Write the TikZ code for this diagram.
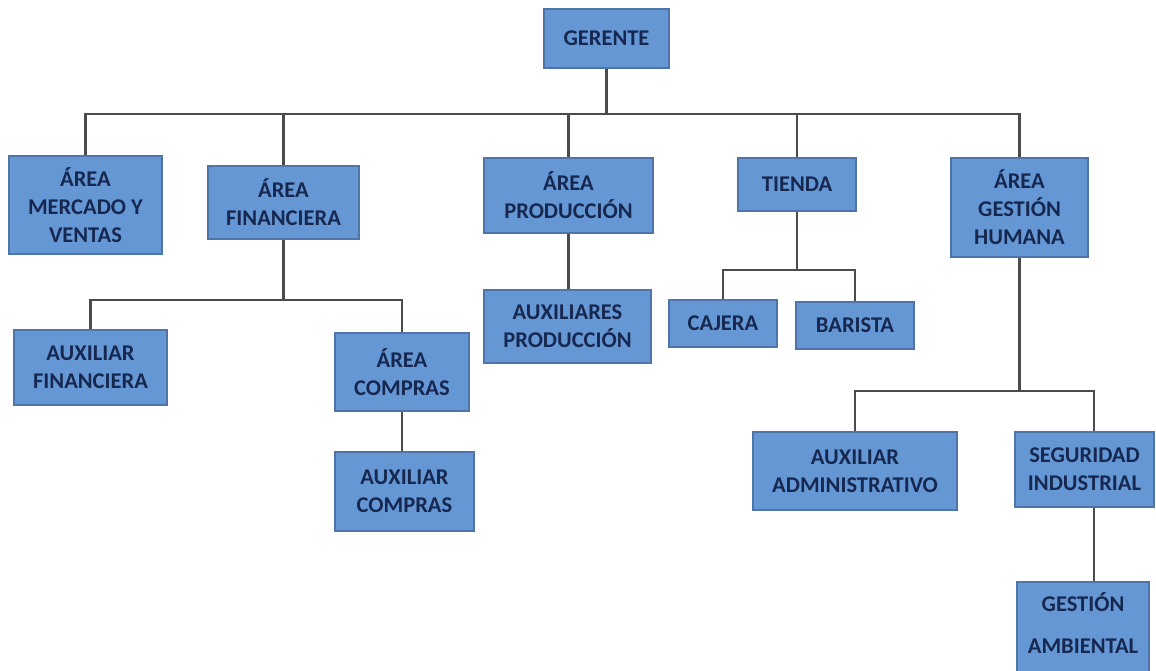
\documentclass[tikz,border=0pt]{standalone}
\usepackage{fontspec}
\setmainfont{Carlito}
\definecolor{boxfill}{RGB}{102,151,213}
\definecolor{boxline}{RGB}{78,116,170}
\definecolor{boxtext}{RGB}{22,40,80}
\definecolor{wire}{RGB}{75,75,75}
\tikzset{
  unit/.style={draw=boxline, line width=1.2pt, fill=boxfill, text=boxtext,
    font=\fontsize{22.5}{28}\selectfont\bfseries, align=center,
    inner sep=0pt, minimum width=#1},
  label text/.style={text=boxtext, font=\fontsize{22.5}{28}\selectfont\bfseries,
    align=center, inner sep=0pt},
  conn/.style={draw=wire, line width=2.3pt}
}
\begin{document}
\begin{tikzpicture}[x=1pt, y=-1pt]
  \clip (0,0) rectangle (1156,671);
  \useasboundingbox (0,0) rectangle (1156,671);
  \fill[white] (0,0) rectangle (1156,671);

  % junction points
  \coordinate (b0) at (606.5,114);
  \coordinate (b1) at (283.5,300);
  \coordinate (b2) at (797,270);
  \coordinate (b3) at (1019.5,391);
  \coordinate (s1) at (1094,391);

  % top level
  \node[unit=125pt, minimum height=59pt] (ger) at (606.5,38.5) {GERENTE};

  % areas
  \node[unit=153pt, minimum height=98pt] (mer) at (85.5,205) {ÁREA\\MERCADO Y\\VENTAS};
  \node[unit=151pt, minimum height=73pt] (fin) at (283.5,202.5) {ÁREA\\FINANCIERA};
  \node[unit=169pt, minimum height=75pt] (pro) at (568.5,195.5) {ÁREA\\PRODUCCIÓN};
  \node[unit=118pt, minimum height=53pt] (tie) at (797,184.5) {TIENDA};
  \node[unit=137pt, minimum height=99pt] (gh) at (1019.5,207.5) {ÁREA\\GESTIÓN\\HUMANA};

  % second level
  \node[unit=153pt, minimum height=75pt] (auxfin) at (90.5,367.5) {AUXILIAR\\FINANCIERA};
  \node[unit=134pt, minimum height=78pt] (com) at (402,372) {ÁREA\\COMPRAS};
  \node[unit=139pt, minimum height=79pt] (auxcom) at (404.5,491.5) {AUXILIAR\\COMPRAS};
  \node[unit=167pt, minimum height=73pt] (auxpro) at (567.5,326.5) {AUXILIARES\\PRODUCCIÓN};
  \node[unit=108pt, minimum height=47pt] (caj) at (723,323.5) {CAJERA};
  \node[unit=118pt, minimum height=47pt] (bar) at (855,325.5) {BARISTA};
  \node[unit=204pt, minimum height=78pt] (adm) at (855,471) {AUXILIAR\\ADMINISTRATIVO};
  \node[unit=139pt, minimum height=75pt] (seg) at (1084.5,469.5) {SEGURIDAD\\INDUSTRIAL};
  \node[unit=132pt, minimum height=110pt] (amb) at (1083,637) {};
  \node[label text] (ambt) at (1083,623) {GESTIÓN\\[14pt]AMBIENTAL};

  % connectors
  \draw[conn] (ger.south) -- (b0);
  \draw[conn] (mer.north) |- (b0) -| (gh.north);
  \draw[conn] (fin.north) -- (fin.north |- b0);
  \draw[conn] (pro.north) -- (pro.north |- b0);
  \draw[conn] (tie.north) -- (tie.north |- b0);

  \draw[conn] (fin.south) -- (b1);
  \draw[conn] (auxfin.north) |- (b1) -| (com.north);
  \draw[conn] (com.south) -- (com.south |- auxcom.north);

  \draw[conn] (pro.south) -- (pro.south |- auxpro.north);

  \draw[conn] (tie.south) -- (b2);
  \draw[conn] (caj.north) |- (b2) -| (bar.north);

  \draw[conn] (gh.south) -- (b3);
  \draw[conn] (adm.north) |- (b3) -- (s1) -- (s1 |- seg.north);
  \draw[conn] (s1 |- seg.south) -- (s1 |- amb.north);
\end{tikzpicture}
\end{document}
